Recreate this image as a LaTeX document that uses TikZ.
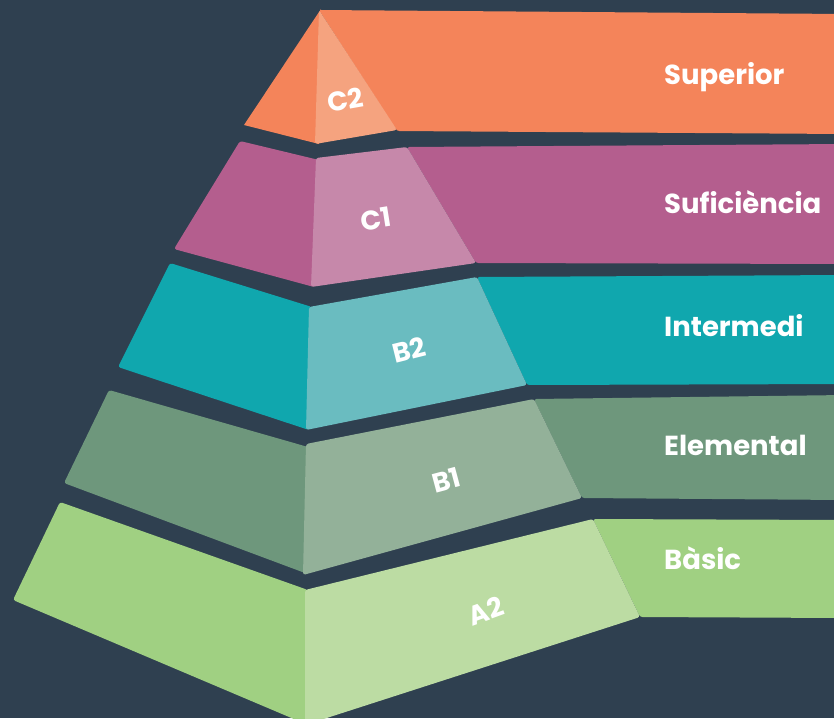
\documentclass[tikz,border=0pt]{standalone}
\usepackage{fontspec}
\setmainfont{Poppins}
\definecolor{bg}{RGB}{47,64,80}
\definecolor{org}{RGB}{244,132,90}
\definecolor{orgL}{RGB}{245,163,127}
\definecolor{mag}{RGB}{180,94,142}
\definecolor{magL}{RGB}{198,136,170}
\definecolor{tea}{RGB}{16,167,174}
\definecolor{teaL}{RGB}{106,188,192}
\definecolor{gry}{RGB}{110,151,124}
\definecolor{gryL}{RGB}{147,177,153}
\definecolor{grn}{RGB}{160,208,130}
\definecolor{grnL}{RGB}{188,220,163}
\begin{document}
\begin{tikzpicture}[x=1pt,y=-1pt,
  face/.style={rounded corners=2.5pt},
  lvl/.style={text=white,font=\bfseries\fontsize{27}{29}\selectfont,inner sep=0pt},
  tag/.style={text=white,font=\bfseries\fontsize{27.5}{30}\selectfont,anchor=base west,inner sep=0pt}]
\useasboundingbox (0,0) rectangle (834,718);
\fill[bg] (0,0) rectangle (834,718);
\clip (0,0) rectangle (834,718);
% bands
\fill[org, face] (319,10) -- (845,14) -- (845,134) -- (397,131) -- cycle;
\fill[mag, face] (407,147) -- (845,144) -- (845,264) -- (476,263) -- cycle;
\fill[tea, face] (477,277) -- (845,275) -- (845,384) -- (527,385) -- cycle;
\fill[gry, face] (534,399) -- (845,395) -- (845,500) -- (582,498) -- cycle;
\fill[grn, face] (593,519) -- (845,520) -- (845,618) -- (640,617) -- cycle;
% C2
\fill[org] (321,9) -- (244,125) -- (319,144) -- cycle;
\fill[orgL, face] (319,10) -- (315,144) -- (397,130) -- cycle;
% C1
\fill[mag, face] (240,141) -- (319,160) -- (314,287) -- (174,249) -- cycle;
\fill[magL, face] (316,158) -- (407,147) -- (476,263) -- (311,287) -- cycle;
% B2
\fill[tea, face] (170,263) -- (312,307) -- (309,430) -- (118,367) -- cycle;
\fill[teaL, face] (309,307) -- (477,277) -- (527,385) -- (306,430) -- cycle;
% B1
\fill[gry, face] (109,390) -- (308,447) -- (305,573) -- (64,483) -- cycle;
\fill[gryL, face] (306,444) -- (534,399) -- (582,498) -- (303,575) -- cycle;
% A2
\fill[grn, face] (60,502) -- (308,590) -- (308,725) -- (13,600) -- cycle;
\fill[grnL, face] (305,590) -- (593,519) -- (640,617) -- (305,725) -- cycle;
% level labels
\node[lvl, rotate=10] (c2) at (345,100) {C2};
\node[lvl, rotate=9] (c1) at (376,219) {C1};
\node[lvl, rotate=14] (b2) at (409,350) {B2};
\node[lvl, rotate=15] (b1) at (446,480) {B1};
\node[lvl, rotate=20] (a2) at (486,611) {A2};
% band labels
\node[tag] (sup) at (664,84) {Superior};
\node[tag] (suf) at (664,213) {Suficiència};
\node[tag] (int) at (664,336) {Intermedi};
\node[tag] (ele) at (664,455) {Elemental};
\node[tag] (bas) at (664,569) {Bàsic};
\end{tikzpicture}
\end{document}
